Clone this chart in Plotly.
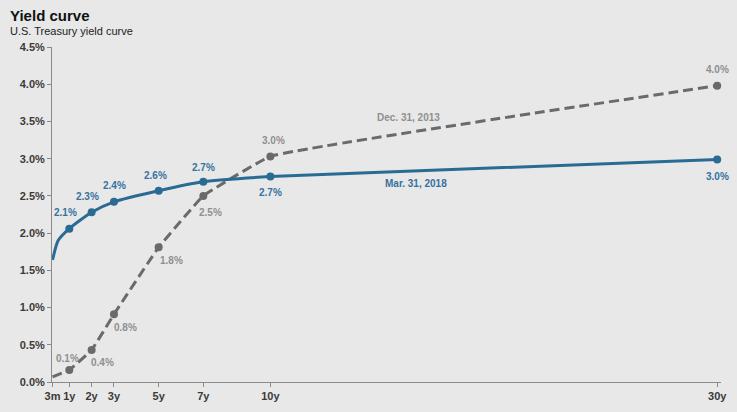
import plotly.graph_objects as go

# ---- data ----
maturity_years = [0.25, 0.5, 1, 2, 3, 5, 7, 10, 30]
yield_2018 = [1.64, 1.90, 2.06, 2.28, 2.42, 2.57, 2.69, 2.76, 2.99]
yield_2013 = [0.07, 0.10, 0.16, 0.43, 0.91, 1.81, 2.50, 3.03, 3.98]
label_2018 = [None, None, "2.1%", "2.3%", "2.4%", "2.6%", "2.7%", "2.7%", "3.0%"]
label_2013 = [None, None, "0.1%", "0.4%", "0.8%", "1.8%", "2.5%", "3.0%", "4.0%"]
marker_2018 = [False, False, True, True, True, True, True, True, True]
marker_2013 = [False, False, True, True, True, True, True, True, True]
tick_years = [0.25, 1, 2, 3, 5, 7, 10, 30]
tick_text = ["3m", "1y", "2y", "3y", "5y", "7y", "10y", "30y"]
y_ticks = [0, 0.5, 1.0, 1.5, 2.0, 2.5, 3.0, 3.5, 4.0, 4.5]
y_tick_text = ["%.1f%%" % v for v in y_ticks]

BLUE = "#2a6b94"
BLUE_TXT = "#3572a0"
GRAY = "#6a6a6a"
GRAY_TXT = "#8f8f8f"
BG = "#e8e8e8"
FONT = "Liberation Sans, Arial, sans-serif"

fig = go.Figure()

# 2013 dashed line
fig.add_trace(go.Scatter(
    x=maturity_years, y=yield_2013, mode="lines",
    line=dict(color=GRAY, width=3, dash="10px,5px", shape="spline", smoothing=0.25),
    hoverinfo="skip", showlegend=False, cliponaxis=False))
fig.add_trace(go.Scatter(
    x=[x for x, m in zip(maturity_years, marker_2013) if m],
    y=[y for y, m in zip(yield_2013, marker_2013) if m],
    mode="markers", marker=dict(color=GRAY, size=8),
    showlegend=False, cliponaxis=False))

# 2018 solid line
fig.add_trace(go.Scatter(
    x=maturity_years, y=yield_2018, mode="lines",
    line=dict(color=BLUE, width=3, shape="spline", smoothing=0.6),
    hoverinfo="skip", showlegend=False, cliponaxis=False))
fig.add_trace(go.Scatter(
    x=[x for x, m in zip(maturity_years, marker_2018) if m],
    y=[y for y, m in zip(yield_2018, marker_2018) if m],
    mode="markers", marker=dict(color=BLUE, size=8),
    showlegend=False, cliponaxis=False))

# data labels
off_2018 = [None, None, (-4, 16), (-4, 16), (1, 16), (-3, 15), (0, 14), (0, -16), (0, -17)]
off_2013 = [None, None, (-2, 12), (11, -13), (12, -13), (13, -13), (7, -17), (3, 16), (0, 16)]
for x, y, t, o in zip(maturity_years, yield_2018, label_2018, off_2018):
    if t:
        fig.add_annotation(x=x, y=y, text="<b>%s</b>" % t, showarrow=False,
                           xshift=o[0], yshift=o[1],
                           font=dict(family=FONT, size=10, color=BLUE_TXT))
for x, y, t, o in zip(maturity_years, yield_2013, label_2013, off_2013):
    if t:
        fig.add_annotation(x=x, y=y, text="<b>%s</b>" % t, showarrow=False,
                           xshift=o[0], yshift=o[1],
                           font=dict(family=FONT, size=10, color=GRAY_TXT))

# series labels
fig.add_annotation(x=16.2, y=3.55, text="<b>Dec. 31, 2013</b>", showarrow=False,
                   font=dict(family=FONT, size=10, color=GRAY_TXT))
fig.add_annotation(x=16.5, y=2.67, text="<b>Mar. 31, 2018</b>", showarrow=False,
                   font=dict(family=FONT, size=10, color=BLUE_TXT))

# titles
L, R, T, B = 52, 10, 47, 19
W = 737 - L - R
H = 412 - T - B
fig.add_annotation(xref="paper", yref="paper", x=(8 - L) / W, y=(393 - 14) / H,
                   xanchor="left", yanchor="middle", showarrow=False,
                   text="<b>Yield curve</b>",
                   font=dict(family=FONT, size=15, color="#111111"))
fig.add_annotation(xref="paper", yref="paper", x=(8 - L) / W, y=(393 - 30) / H,
                   xanchor="left", yanchor="middle", showarrow=False,
                   text="U.S. Treasury yield curve",
                   font=dict(family=FONT, size=11, color="#222222"))

fig.update_layout(
    width=737, height=412,
    margin=dict(l=L, r=R, t=T, b=B),
    paper_bgcolor=BG, plot_bgcolor=BG,
    font=dict(family=FONT, size=11, color="#333333"),
    xaxis=dict(range=[0.226, 30.17], tickvals=tick_years,
               ticktext=["<b>%s</b>" % t for t in tick_text],
               showgrid=False, zeroline=False, showline=True, linecolor="#8a8a8a",
               linewidth=1, ticks="outside", ticklen=4, tickcolor="#8a8a8a",
               tickfont=dict(family=FONT, size=11, color="#3a3a3a")),
    yaxis=dict(range=[0, 4.5], tickvals=y_ticks,
               ticktext=["<b>%s</b>" % t for t in y_tick_text],
               showgrid=False, zeroline=False, showline=True, linecolor="#8a8a8a",
               linewidth=1, ticks="outside", ticklen=4, tickcolor="#8a8a8a",
               tickfont=dict(family=FONT, size=11, color="#3a3a3a")),
)

fig.write_html("out.html")
